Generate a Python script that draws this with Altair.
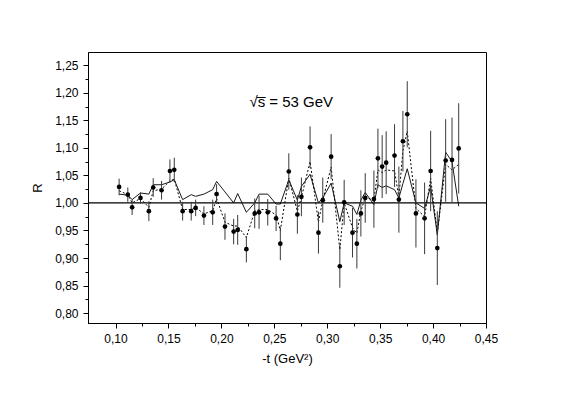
import altair as alt
import pandas as pd

# measured points
t_vals = [0.1034, 0.1116, 0.1157, 0.1236, 0.1315, 0.1356, 0.1435, 0.1514, 0.1555, 0.1634,
          0.1715, 0.1757, 0.1835, 0.1918, 0.1955, 0.2034, 0.2116, 0.2154, 0.2236, 0.2315,
          0.2356, 0.2438, 0.2517, 0.2557, 0.2637, 0.2718, 0.2756, 0.2838, 0.2917, 0.2958,
          0.3037, 0.3119, 0.3160, 0.3239, 0.3280, 0.3318, 0.3359, 0.3441, 0.3479, 0.3519,
          0.3557, 0.3636, 0.3677, 0.3715, 0.3756, 0.3838, 0.3920, 0.3977, 0.4040, 0.4119,
          0.4179, 0.4242]
r_vals = [1.029, 1.015, 0.992, 1.009, 0.985, 1.028, 1.023, 1.058, 1.060, 0.985,
          0.985, 0.991, 0.977, 0.983, 1.016, 0.957, 0.948, 0.951, 0.916, 0.981,
          0.983, 0.983, 0.972, 0.926, 1.057, 0.979, 1.011, 1.101, 0.946, 1.005,
          1.084, 0.885, 1.001, 0.946, 0.926, 0.981, 1.009, 1.007, 1.081, 1.066,
          1.073, 1.086, 1.006, 1.112, 1.161, 0.981, 0.972, 1.058, 0.918, 1.077,
          1.078, 1.099]
r_err = [0.015, 0.013, 0.014, 0.010, 0.018, 0.017, 0.017, 0.021, 0.022, 0.017,
         0.017, 0.015, 0.017, 0.023, 0.018, 0.024, 0.023, 0.027, 0.024, 0.027,
         0.030, 0.024, 0.023, 0.030, 0.033, 0.035, 0.035, 0.038, 0.038, 0.041,
         0.041, 0.039, 0.041, 0.045, 0.045, 0.042, 0.045, 0.052, 0.054, 0.057,
         0.057, 0.057, 0.060, 0.055, 0.060, 0.062, 0.065, 0.073, 0.067, 0.075,
         0.077, 0.082]
# dashed curve (fit through points)
dashed_vals = [1.022, 1.015, 1.000, 1.008, 0.992, 1.022, 1.025, 1.040, 1.043, 0.988,
               0.988, 0.992, 0.980, 0.986, 1.008, 0.965, 0.958, 0.958, 0.937, 0.985,
               0.988, 0.988, 0.978, 0.950, 1.045, 0.985, 1.010, 1.075, 0.965, 1.005,
               1.065, 0.915, 1.000, 0.955, 0.945, 0.985, 1.010, 1.005, 1.060, 1.055,
               1.060, 1.058, 1.010, 1.095, 1.130, 0.990, 0.975, 1.045, 0.945, 1.070,
               1.060, 1.070]
# solid curve
solid_vals = [1.016, 1.014, 1.006, 1.018, 1.016, 1.033, 1.033, 1.038, 1.042, 1.006,
              1.015, 1.012, 1.016, 1.024, 1.039, 1.020, 1.000, 1.017, 0.983, 1.000,
              1.016, 1.016, 0.998, 0.998, 1.042, 1.005, 1.030, 1.052, 1.000, 1.009,
              1.036, 0.966, 1.000, 0.994, 0.979, 1.005, 1.019, 0.997, 1.033, 1.028,
              1.031, 1.024, 1.009, 1.035, 1.062, 1.000, 0.990, 1.030, 0.942, 1.092,
              1.075, 0.994]

x_ticks = [0.10, 0.125, 0.15, 0.175, 0.20, 0.225, 0.25, 0.275, 0.30, 0.325, 0.35, 0.375, 0.40, 0.425, 0.45]
y_ticks = [0.80, 0.825, 0.85, 0.875, 0.90, 0.925, 0.95, 0.975, 1.00, 1.025, 1.05, 1.075,
           1.10, 1.125, 1.15, 1.175, 1.20, 1.225, 1.25]

df = pd.DataFrame({
    "t": t_vals, "R": r_vals,
    "lo": [r - e for r, e in zip(r_vals, r_err)],
    "hi": [r + e for r, e in zip(r_vals, r_err)],
    "dashed": dashed_vals, "solid": solid_vals,
})

FONT = "Liberation Sans"
minor_test = "abs(round(datum.value*1000) % 50) > 0.5"
label_expr = "abs(round(datum.value*1000) % 50) < 0.5 ? replace(format(datum.value, '.2f'), '.', ',') : ''"

xscale = alt.Scale(domain=[0.074, 0.45], nice=False, zero=False)
yscale = alt.Scale(domain=[0.782, 1.274], nice=False, zero=False)

common = dict(grid=False, labelExpr=label_expr,
              tickSize={"condition": {"test": minor_test, "value": 3}, "value": 5},
              labelFont=FONT, labelFontSize=12, titleFont=FONT, titleFontSize=13,
              titleFontWeight="normal", labelColor="black", titleColor="black",
              domainColor="black", tickColor="black", labelPadding=5,
              labelFlush=False, labelOverlap=False)
xaxis = alt.Axis(values=x_ticks, title="-t (GeV²)", titlePadding=8, **common)
yaxis = alt.Axis(values=y_ticks, title="R", titlePadding=10, **common)

X = alt.X("t:Q", scale=xscale, axis=xaxis, title="-t (GeV²)")


def Y(field):
    return alt.Y(field, scale=yscale, axis=yaxis, title="R")


base = alt.Chart(df)

unity = alt.Chart(pd.DataFrame({"y": [1.0]})).mark_rule(color="black", strokeWidth=1.2).encode(
    y=Y("y:Q"))

solid = base.mark_line(color="black", strokeWidth=0.9).encode(x=X, y=Y("solid:Q"))

dashed = base.mark_line(color="black", strokeWidth=1, strokeDash=[2, 2]).encode(x=X, y=Y("dashed:Q"))

errs = base.mark_rule(color="#3a3a3a", strokeWidth=1).encode(x=X, y=Y("lo:Q"), y2="hi:Q")

pts = base.mark_circle(color="black", opacity=1, size=22).encode(x=X, y=Y("R:Q"))

label = alt.Chart(pd.DataFrame({"t": [0.2265], "R": [1.184], "txt": ["√s̅ = 53 GeV"]})).mark_text(
    align="left", baseline="middle", font=FONT, fontSize=15, color="black").encode(
    x=X, y=Y("R:Q"), text="txt:N")

chart = alt.layer(unity, solid, dashed, errs, pts, label).properties(
    width=398, height=271,
    autosize=alt.AutoSizeParams(type="none"),
    padding={"left": 80, "top": 44, "right": 67, "bottom": 63},
    background="white",
).configure_view(stroke="black", strokeWidth=1).configure_axis(labelOverlap=False)

chart.save("out.html", embed_options={"renderer": "svg", "actions": False})
